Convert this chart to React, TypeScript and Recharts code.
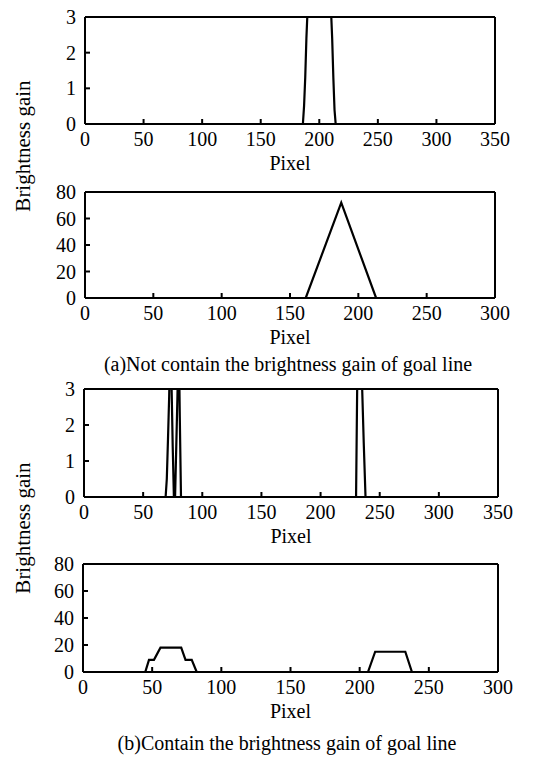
import React from 'react';
import { LineChart, Line, XAxis, YAxis } from 'recharts';

const FONT = '"Liberation Serif", "DejaVu Serif", "Times New Roman", Times, serif';

// Tick labels
const xTicks350 = [0, 50, 100, 150, 200, 250, 300, 350];
const xTicks300 = [0, 50, 100, 150, 200, 250, 300];
const yTicks3 = [0, 1, 2, 3];
const yTicks80 = [0, 20, 40, 60, 80];

// (a) top: brightness gain without goal line (clipped at 3)
const pixelA1 = [0, 186, 187, 188, 189, 190, 200, 210, 211, 212, 213, 214, 350];
const gainA1 = [0, 0, 0.5, 1.3, 2.4, 3.2, 12, 3.2, 2.4, 1.3, 0.4, 0, 0];

// (a) bottom
const pixelA2 = [0, 161.5, 187.5, 213, 300];
const gainA2 = [0, 0, 72, 0, 0];

// (b) top (clipped at 3)
const pixelB1 = [0, 69, 70, 71, 72, 72.7, 73.5, 74.2, 75, 76, 77, 78, 79, 79.7, 80.3, 81, 82, 230, 231, 231.6, 234.2, 235, 236.5, 238, 350];
const gainB1 = [0, 0, 0.5, 1.6, 2.8, 4, 4, 2.8, 1.4, 0, 0, 1.4, 2.8, 4, 4, 2.2, 0, 0, 3.2, 5, 5, 3.2, 1.5, 0, 0];

// (b) bottom
const pixelB2 = [0, 45, 47.7, 51.3, 56, 71, 74.1, 78.6, 82.2, 206, 211.2, 233, 237.8, 300];
const gainB2 = [0, 0, 9, 9, 18, 18, 9, 9, 0, 0, 15, 15, 0, 0];

const toRows = (xs: number[], ys: number[]) => xs.map((x, i) => ({ x, y: ys[i] }));

type PanelProps = {
  plotLeft: number;
  plotRight: number;
  plotTop: number;
  plotBottom: number;
  xs: number[];
  ys: number[];
  xMax: number;
  xTicks: number[];
  yMax: number;
  yTicks: number[];
};

const axisStroke = { stroke: '#000', strokeWidth: 2 };
const tickStyle = { fill: '#000', fontSize: 20, fontFamily: FONT };

function Panel(p: PanelProps) {
  const W = 556;
  const padTop = 10;
  const padBottom = 40;
  const yAxisW = 40;
  const xAxisH = 30;
  const H = p.plotBottom - p.plotTop + padTop + padBottom;
  const data = toRows(p.xs, p.ys);
  return (
    <div style={{ position: 'absolute', left: 0, top: p.plotTop - padTop }}>
      <LineChart
        width={W}
        height={H}
        data={data}
        style={{ fontFamily: FONT }}
        margin={{
          top: padTop - 1,
          left: p.plotLeft - yAxisW,
          right: W - p.plotRight - 1,
          bottom: padBottom - xAxisH,
        }}
      >
        <XAxis
          xAxisId="b"
          dataKey="x"
          type="number"
          domain={[0, p.xMax]}
          ticks={p.xTicks}
          interval={0}
          orientation="bottom"
          height={xAxisH}
          tickSize={-5}
          tickMargin={13}
          axisLine={axisStroke}
          tickLine={axisStroke}
          tick={tickStyle}
          allowDataOverflow
        />
        <XAxis
          xAxisId="t"
          dataKey="x"
          type="number"
          domain={[0, p.xMax]}
          ticks={p.xTicks}
          interval={0}
          orientation="top"
          height={1}
          tickSize={-5}
          axisLine={axisStroke}
          tickLine={axisStroke}
          tick={false}
          allowDataOverflow
        />
        <YAxis
          yAxisId="l"
          type="number"
          domain={[0, p.yMax]}
          ticks={p.yTicks}
          interval={0}
          width={yAxisW}
          tickSize={-5}
          tickMargin={14}
          axisLine={axisStroke}
          tickLine={axisStroke}
          tick={tickStyle}
          allowDataOverflow
        />
        <YAxis
          yAxisId="r"
          orientation="right"
          type="number"
          domain={[0, p.yMax]}
          ticks={p.yTicks}
          interval={0}
          width={1}
          tickSize={-5}
          axisLine={axisStroke}
          tickLine={axisStroke}
          tick={false}
          allowDataOverflow
        />
        <Line
          xAxisId="b"
          yAxisId="l"
          dataKey="y"
          type="linear"
          dot={false}
          activeDot={false}
          stroke="#000"
          strokeWidth={2.2}
          isAnimationActive={false}
        />
      </LineChart>
    </div>
  );
}

const panels = [
  { plotLeft: 85, plotRight: 495, plotTop: 17, plotBottom: 124, xs: pixelA1, ys: gainA1, xMax: 350, xTicks: xTicks350, yMax: 3, yTicks: yTicks3 },
  { plotLeft: 85, plotRight: 495, plotTop: 192, plotBottom: 298, xs: pixelA2, ys: gainA2, xMax: 300, xTicks: xTicks300, yMax: 80, yTicks: yTicks80 },
  { plotLeft: 84, plotRight: 498, plotTop: 389, plotBottom: 497, xs: pixelB1, ys: gainB1, xMax: 350, xTicks: xTicks350, yMax: 3, yTicks: yTicks3 },
  { plotLeft: 83, plotRight: 498, plotTop: 564, plotBottom: 672, xs: pixelB2, ys: gainB2, xMax: 300, xTicks: xTicks300, yMax: 80, yTicks: yTicks80 },
];

export default function App() {
  return (
    <div style={{ position: 'absolute', left: 0, top: 0, width: 556, height: 758, background: '#fff', overflow: 'hidden', fontFamily: FONT }}>
      {panels.map((p, i) => (
        <Panel key={i} {...p} />
      ))}
      <svg width={556} height={758} style={{ position: 'absolute', left: 0, top: 0, pointerEvents: 'none' }}>
        {panels.map((p, i) => (
          <text key={'px' + i} x={(p.plotLeft + p.plotRight) / 2} y={p.plotBottom + 46} textAnchor="middle" fontFamily={FONT} fontSize={20} fill="#000">
            Pixel
          </text>
        ))}
        <text x={288} y={371} textAnchor="middle" fontFamily={FONT} fontSize={20} fill="#000">(a)Not contain the brightness gain of goal line</text>
        <text x={287} y={750} textAnchor="middle" fontFamily={FONT} fontSize={20} fill="#000">(b)Contain the brightness gain of goal line</text>
        <text x={30} y={146} textAnchor="middle" transform="rotate(-90 30 146)" fontFamily={FONT} fontSize={21} fill="#000">Brightness gain</text>
        <text x={30} y={528} textAnchor="middle" transform="rotate(-90 30 528)" fontFamily={FONT} fontSize={21} fill="#000">Brightness gain</text>
      </svg>
    </div>
  );
}
